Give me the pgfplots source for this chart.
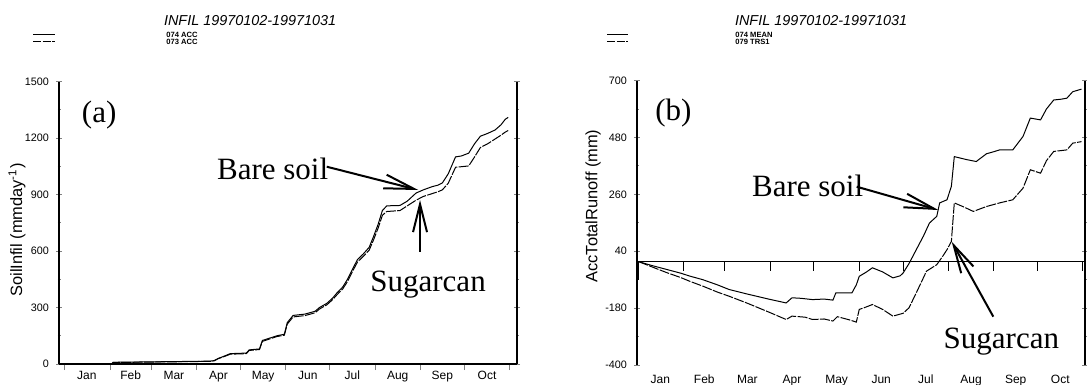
\documentclass[border=0pt]{standalone}
\usepackage{pgfplots}
\pgfplotsset{compat=1.18}
\usepackage{pgfplotstable}
\usepackage{fontspec}
\setmainfont{Liberation Sans}
\newfontfamily\serifF{Liberation Serif}
\usetikzlibrary{arrows.meta}

\pgfplotstableread{
d v
1 0
33 0
34 9
100 15
103 18
106 30
110 42
114 55
125 58
127 75
134 80
136 125
146 150
151 158
153 220
157 258
165 265
172 280
175 300
180 322
184 350
187 378
191 410
194 448
198 510
201 555
205 585
209 620
212 678
215 740
218 815
221 840
230 842
235 865
241 908
246 925
252 942
256 950
259 962
263 1010
268 1100
272 1105
277 1120
281 1170
285 1210
290 1225
295 1243
299 1270
302 1300
304 1310
}\aBare

\pgfplotstableread{
d v
1 0
33 0
34 8
100 14
103 17
106 29
110 40
114 52
125 55
127 72
134 77
136 120
146 146
151 153
153 212
157 250
165 257
172 272
175 292
180 314
184 342
187 368
191 400
194 436
198 498
201 542
205 572
209 605
212 660
215 720
218 790
221 810
230 815
235 840
241 870
246 890
252 905
256 915
259 925
263 960
268 1045
272 1048
277 1052
281 1100
285 1150
290 1170
295 1195
299 1215
302 1232
304 1240
}\aSugar

\pgfplotstableread{
d v
1 0
10 -15
20 -30
30 -45
36 -56
45 -70
55 -90
63 -108
75 -125
90 -145
102 -160
106 -140
112 -142
120 -147
128 -145
134 -149
136 -121
147 -121
150 -90
152 -57
157 -40
161 -24
168 -40
175 -63
180 -55
182 -44
186 -8
191 46
196 100
200 149
205 175
207 227
212 239
215 291
217 406
225 395
232 387
239 417
244 425
248 432
257 432
264 484
269 555
276 548
280 590
285 625
290 628
294 632
298 657
304 667
}\bBare

\pgfplotstableread{
d v
1 0
10 -20
20 -42
30 -62
36 -76
45 -95
55 -118
63 -134
75 -160
90 -195
102 -224
106 -211
115 -215
120 -224
128 -222
134 -230
137 -213
145 -225
150 -234
152 -185
157 -175
161 -166
168 -185
175 -211
182 -200
186 -179
191 -121
198 -37
205 -12
209 20
212 46
215 78
217 227
224 210
230 194
239 213
248 227
257 239
264 284
269 355
276 342
280 390
285 426
294 432
298 458
304 464
}\bSugar

\pgfplotsset{
  common/.style={
    scale only axis,
    anchor=south west,
    axis y line*=box,
    axis x line*=bottom,
    axis line style={line width=0.7pt},
    /pgf/number format/assume math mode=true,
    /pgf/number format/1000 sep={},
    tick label style={font=\fontsize{5.4}{6}\selectfont},
    xticklabel style={font=\fontsize{6}{6}\selectfont},
    major tick length=3pt,
    minor tick length=1.5pt,
    y tick style={line width=0.5pt},
    tick align=center,
    minor y tick num=1,
    scaled y ticks=false,
    clip=false,
  },
  bare/.style={black, line width=0.5pt},
  sugar/.style={black, line width=0.5pt, dash pattern=on 5pt off 0.7pt},
}

\begin{document}
\begin{tikzpicture}
\path[use as bounding box] (0,0) rectangle (543.5pt,-192.5pt);

% ---------- panel (a) ----------
\begin{axis}[common,
  at={(29.5pt,-182pt)}, width=229pt, height=141.2pt,
  xmin=-3, xmax=310, ymin=0, ymax=1500,
  xtick={1,32,60,91,121,152,182,213,244,274,305}, xticklabels={},
  x tick style={line width=0.5pt},
  xtick align=outside,
  extra x ticks={16,46,75.5,106,136.5,167,197.5,228.5,259,289.5},
  extra x tick labels={Jan,Feb,Mar,Apr,May,Jun,Jul,Aug,Sep,Oct},
  extra x tick style={major tick length=0pt, xticklabel style={font=\fontsize{6}{6}\selectfont}},
  ytick={0,300,600,900,1200,1500},
]
\addplot[bare] table[x=d,y=v] {\aBare};
\addplot[sugar] table[x=d,y=v] {\aSugar};
\end{axis}

% ---------- panel (b) ----------
\begin{axis}[common,
  at={(318.5pt,-182.5pt)}, width=224pt, height=142.2pt,
  xmin=0, xmax=306.4, ymin=-400, ymax=700,
  x axis line style={draw=none},
  xtick={16,46,75.5,106,136.5,167,197.5,228.5,259,289.5},
  xticklabels={Jan,Feb,Mar,Apr,May,Jun,Jul,Aug,Sep,Oct},
  x tick style={draw=none},
  ytick={-400,-180,40,260,480,700},
]
\draw[line width=0.7pt] (axis cs:0,0) -- (axis cs:306.4,0);
\draw[line width=0.5pt] (axis cs:1,0) -- ++(0pt,-9pt);
\pgfplotsinvokeforeach{32,60,91,121,152,182,213,244,274,305}{
  \draw[line width=0.5pt] (axis cs:#1,0) -- ++(0pt,-4.5pt);
}
\addplot[bare] table[x=d,y=v] {\bBare};
\addplot[sugar] table[x=d,y=v] {\bSugar};
\end{axis}

% ---------- titles and legend-like keys ----------
\node[anchor=west, font=\fontsize{7.2}{8}\selectfont\itshape] at (78.5pt,-10.5pt) {INFIL 19970102-19971031};
\node[anchor=west, font=\fontsize{7.2}{8}\selectfont\itshape] at (364pt,-10.5pt) {INFIL 19970102-19971031};

\draw[line width=0.5pt] (16.5pt,-17.5pt) -- (27.5pt,-17.5pt);
\draw[line width=0.5pt, dash pattern=on 4pt off 0.8pt] (16.5pt,-21pt) -- (27.5pt,-21pt);
\draw[line width=0.5pt] (303.5pt,-17.5pt) -- (314pt,-17.5pt);
\draw[line width=0.5pt, dash pattern=on 4pt off 0.8pt] (303.5pt,-21pt) -- (314pt,-21pt);

\node[anchor=north west, inner sep=0pt, align=left, font=\fontsize{3.8}{3.6}\selectfont\bfseries] at (83pt,-16pt) {074 ACC\\073 ACC};
\node[anchor=north west, inner sep=0pt, align=left, font=\fontsize{3.8}{3.6}\selectfont\bfseries] at (367.5pt,-16pt) {074 MEAN\\079 TRS1};

% ---------- y labels ----------
\node[rotate=90, font=\fontsize{8.2}{9}\selectfont] at (8.5pt,-115pt) {SoilInfil (mmday\textsuperscript{-1})};
\node[rotate=90, font=\fontsize{8.2}{9}\selectfont] at (296.5pt,-103pt) {AccTotalRunoff (mm)};

% ---------- annotations ----------
\node[font=\serifF\fontsize{15.5}{16}\selectfont] at (49.6pt,-57.5pt) {(a)};
\node[font=\serifF\fontsize{15.5}{16}\selectfont] at (336.7pt,-56.7pt) {(b)};

\node[anchor=base west, inner sep=0pt, font=\serifF\fontsize{15.5}{16}\selectfont] at (108.35pt,-89.5pt) {Bare soil};
\node[anchor=base west, inner sep=0pt, font=\serifF\fontsize{15.5}{16}\selectfont] at (185pt,-145.85pt) {Sugarcan};
\draw[line width=1pt, -{Straight Barb[length=15pt,width=7pt,line width=1pt]}] (163.35pt,-83.35pt) -- (209.15pt,-95pt);
\draw[line width=1pt, -{Straight Barb[length=14pt,width=7pt,line width=1pt]}] (210pt,-125.85pt) -- (210pt,-100pt);

\node[anchor=base west, inner sep=0pt, font=\serifF\fontsize{15.5}{16}\selectfont] at (375.85pt,-98.35pt) {Bare soil};
\node[anchor=base west, inner sep=0pt, font=\serifF\fontsize{15.5}{16}\selectfont] at (471.65pt,-174.15pt) {Sugarcan};
\draw[line width=1pt, -{Straight Barb[length=15pt,width=7pt,line width=1pt]}] (428.35pt,-93.35pt) -- (469.15pt,-105pt);
\draw[line width=1pt, -{Straight Barb[length=14pt,width=7pt,line width=1pt]}] (496.65pt,-158.35pt) -- (475.85pt,-120.85pt);
\end{tikzpicture}
\end{document}
